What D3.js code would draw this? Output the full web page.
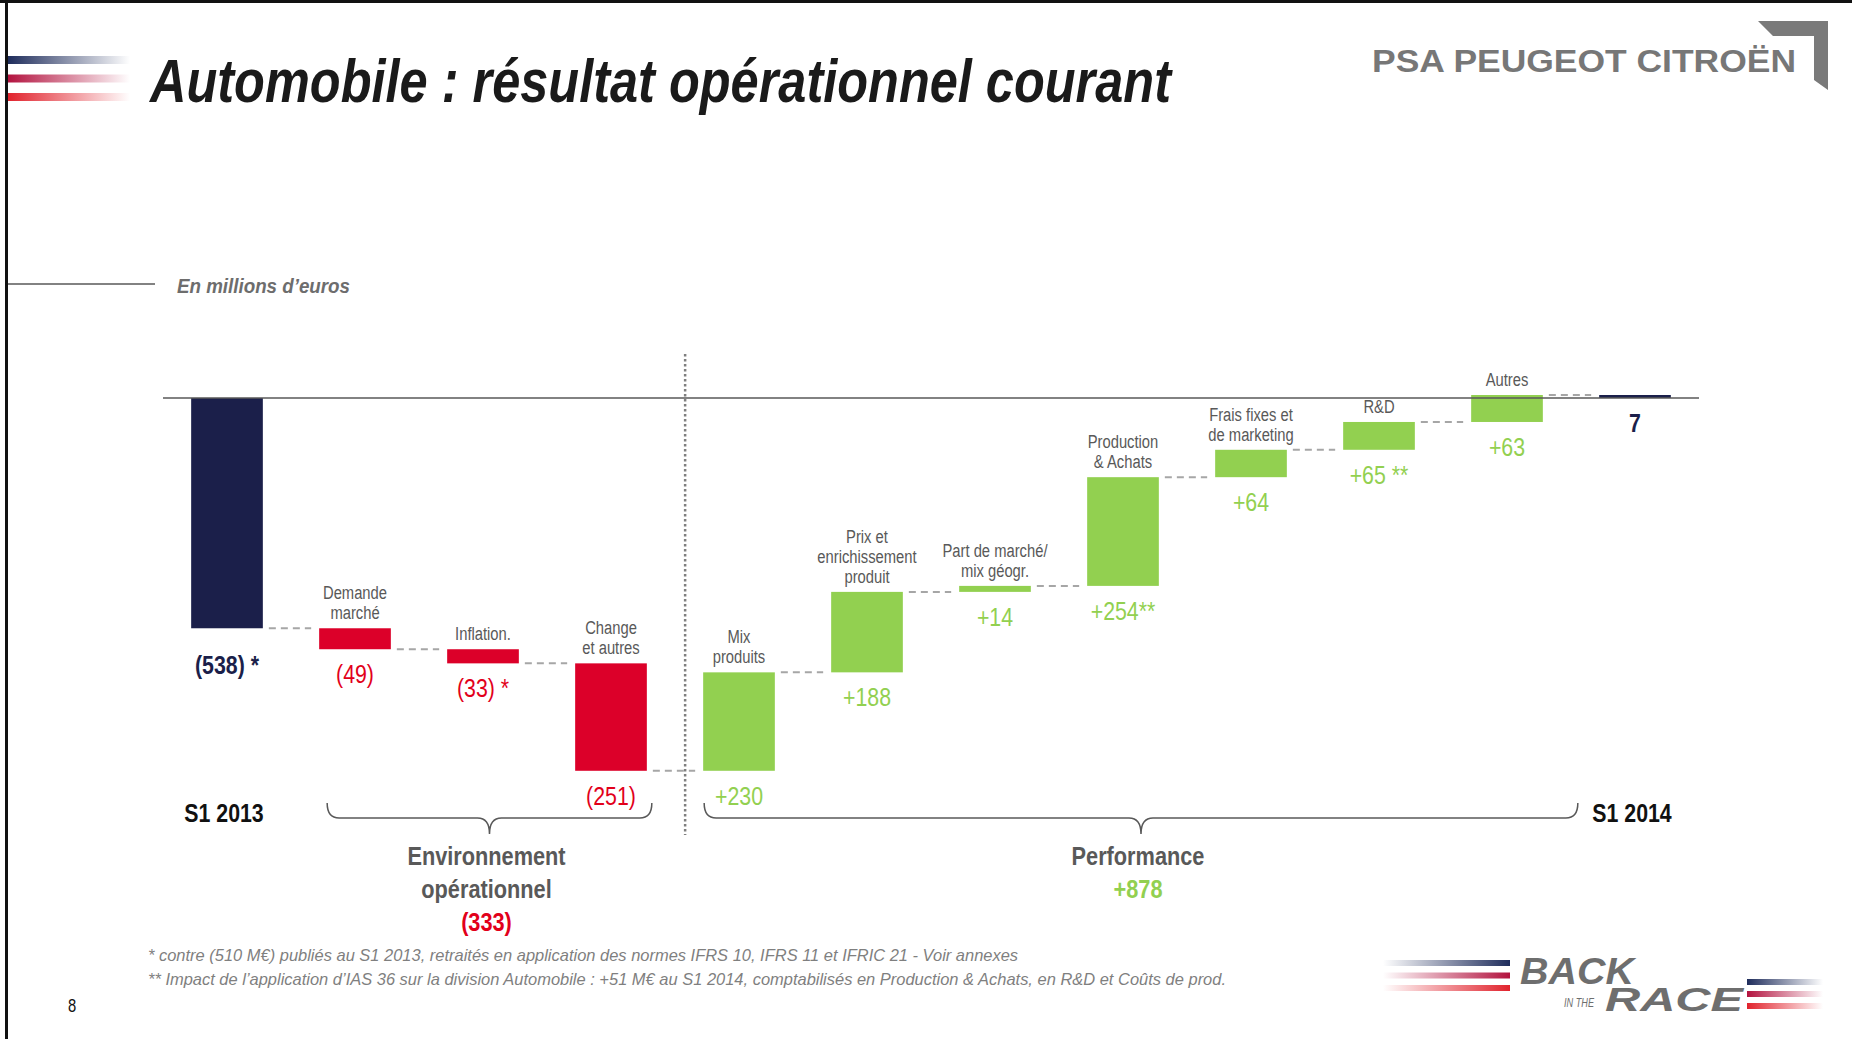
<!DOCTYPE html>
<html>
<head>
<meta charset="utf-8">
<script src="https://cdn.jsdelivr.net/npm/d3@7"></script>
<style>
body { margin: 0; background: #fff; }
svg { display: block; }
</style>
</head>
<body>
<script>
// ---- data (millions d'euros) ----
var categories = ["S1 2013", "Demande marché", "Inflation.", "Change et autres", "Mix produits",
	"Prix et enrichissement produit", "Part de marché/ mix géogr.", "Production & Achats",
	"Frais fixes et de marketing", "R&D", "Autres", "S1 2014"];
var values = [-538, -49, -33, -251, 230, 188, 14, 254, 64, 65, 63, 7];
var kinds = ["total", "delta", "delta", "delta", "delta", "delta", "delta", "delta", "delta", "delta", "delta", "total"];
var valueLabels = ["(538) *", "(49)", "(33) *", "(251)", "+230", "+188", "+14", "+254**", "+64", "+65 **", "+63", "7"];
var catLines = [[], ["Demande", "marché"], ["Inflation."], ["Change", "et autres"], ["Mix", "produits"],
	["Prix et", "enrichissement", "produit"], ["Part de marché/", "mix géogr."], ["Production", "& Achats"],
	["Frais fixes et", "de marketing"], ["R&D"], ["Autres"], []];
var groupNames = [["Environnement", "opérationnel"], ["Performance"]];
var groupTotals = ["(333)", "+878"];
var groupSpans = [["Demande marché", "Change et autres"], ["Mix produits", "Autres"]];
var footnotes = ["* contre (510 M€) publiés au S1 2013, retraités en application des normes IFRS 10, IFRS 11 et IFRIC 21 - Voir annexes",
	"** Impact de l’application d’IAS 36 sur la division Automobile : +51 M€ au S1 2014, comptabilisés en Production & Achats, en R&D et Coûts de prod."];
var title = "Automobile : résultat opérationnel courant";
var unitLabel = "En millions d’euros";

var W = 1852, H = 1039;
var FONT = "'Liberation Sans', Arial, sans-serif";
var NAVY = "#1b1f4a", RED = "#dc0029", REDTXT = "#e2001a", GREEN = "#92d050", GREY = "#595959";
var NARROW_RATIO = 0.82; // arial narrow ~ arial squeezed

var svg = d3.select("body").append("svg").attr("width", W).attr("height", H)
	.attr("font-family", FONT);
var defs = svg.append("defs");

function fade(id, color, reverse) {
	var g = defs.append("linearGradient").attr("id", id).attr("x1", 0).attr("x2", 1).attr("y1", 0).attr("y2", 0);
	g.append("stop").attr("offset", "0%").attr("stop-color", color).attr("stop-opacity", reverse ? 0 : 1);
	g.append("stop").attr("offset", "100%").attr("stop-color", color).attr("stop-opacity", reverse ? 1 : 0);
}
var stripeColors = ["#1f2d5c", "#b3133f", "#e1232d"];
stripeColors.forEach(function(c, i) {
	fade("fr" + i, c, false);
	fade("fl" + i, c, true);
});

// ---- page frame ----
svg.append("rect").attr("x", 0).attr("y", 0).attr("width", W).attr("height", 3).attr("fill", "#111");
svg.append("rect").attr("x", 5).attr("y", 0).attr("width", 3).attr("height", H).attr("fill", "#111");

// title stripes
svg.selectAll(".tstripe").data(stripeColors).enter().append("rect")
	.attr("class", "tstripe")
	.attr("x", 8).attr("width", 122).attr("height", 8)
	.attr("y", function(d, i) { return 56 + i * 18.5; })
	.attr("fill", function(d, i) { return "url(#fr" + i + ")"; });

svg.append("text").text(title)
	.attr("x", 150).attr("y", 102)
	.attr("font-size", 61).attr("font-weight", "bold").attr("font-style", "italic")
	.attr("fill", "#1a1a1a")
	.attr("textLength", 1021).attr("lengthAdjust", "spacingAndGlyphs");

// PSA logo
svg.append("text").text("PSA PEUGEOT CITROËN")
	.attr("x", 1372).attr("y", 72)
	.attr("font-size", 31).attr("font-weight", "bold")
	.attr("fill", "#777")
	.attr("textLength", 424).attr("lengthAdjust", "spacingAndGlyphs");
svg.append("path")
	.attr("d", "M1758,21 L1828,21 L1828,90 L1814,80 L1814,36 L1773,36 Z")
	.attr("fill", "#7a7a7a");

// unit label
svg.append("line").attr("x1", 8).attr("x2", 155).attr("y1", 284).attr("y2", 284)
	.attr("stroke", GREY).attr("stroke-width", 1.5);
svg.append("text").text(unitLabel)
	.attr("x", 177).attr("y", 293)
	.attr("font-size", 21).attr("font-weight", "bold").attr("font-style", "italic")
	.attr("fill", "#6d6d6d")
	.attr("textLength", 173).attr("lengthAdjust", "spacingAndGlyphs");

// ---- waterfall ----
var running = 0;
var steps = categories.map(function(c, i) {
	var v = values[i], start, end;
	if (kinds[i] == "total") {
		start = 0;
		end = v;
	} else {
		start = running;
		end = running + v;
	}
	running = end;
	return { cat: c, value: v, start: start, end: end, kind: kinds[i], label: valueLabels[i], lines: catLines[i] };
});

var x = d3.scaleBand().domain(categories).range([163, 1699]).paddingInner(0.44).paddingOuter(0.22);
var y = d3.scaleLinear().domain([-900, 100]).range([783.2, 355.2]);
var bw = x.bandwidth();

function barColor(d) {
	if (d.kind == "total") return NAVY;
	return d.value < 0 ? RED : GREEN;
}
function barTop(d) { return y(Math.max(d.start, d.end)); }
function barBottom(d) { return y(Math.min(d.start, d.end)); }
function cx(d) { return x(d.cat) + bw / 2; }

// separator between the two groups
var sepX = x("Mix produits") - (x.step() - bw) * 0.32;
svg.append("line")
	.attr("x1", sepX).attr("x2", sepX).attr("y1", 354).attr("y2", 835)
	.attr("stroke", "#7f7f7f").attr("stroke-width", 2.5).attr("stroke-dasharray", "2.5,2.5");

// connectors
var links = d3.pairs(steps);
svg.selectAll(".link").data(links).enter().append("line")
	.attr("class", "link")
	.attr("x1", function(d) { return x(d[0].cat) + bw + 6; })
	.attr("x2", function(d) { return x(d[1].cat) - 8; })
	.attr("y1", function(d) { return y(d[0].end); })
	.attr("y2", function(d) { return y(d[0].end); })
	.attr("stroke", "#a6a6a6").attr("stroke-width", 2).attr("stroke-dasharray", "7,5");

svg.selectAll(".bar").data(steps).enter().append("rect")
	.attr("class", "bar")
	.attr("x", function(d) { return x(d.cat); })
	.attr("width", bw)
	.attr("y", barTop)
	.attr("height", function(d) { return barBottom(d) - barTop(d); })
	.attr("fill", barColor);

// zero line
svg.append("line")
	.attr("x1", x.range()[0]).attr("x2", x.range()[1])
	.attr("y1", y(0)).attr("y2", y(0))
	.attr("stroke", GREY).attr("stroke-width", 1.5);

// category labels above bars, one text per line
var catRows = [];
steps.forEach(function(d) {
	d.lines.forEach(function(l, j) {
		catRows.push({ text: l, d: d, k: d.lines.length - 1 - j });
	});
});
svg.selectAll(".cat").data(catRows).enter().append("text")
	.attr("class", "cat narrow")
	.attr("text-anchor", "middle")
	.attr("x", function(t) { return cx(t.d); })
	.attr("y", function(t) { return barTop(t.d) - 9 - t.k * 20; })
	.attr("font-size", 18)
	.attr("fill", GREY)
	.text(function(t) { return t.text; });

// value labels under bars (the opening total sits a little lower)
svg.selectAll(".val").data(steps).enter().append("text")
	.attr("class", "val narrow")
	.attr("text-anchor", "middle")
	.attr("x", cx)
	.attr("y", function(d) {
		var extra = (d.kind == "total" && d.value < 0) ? 12 : 0;
		return barBottom(d) + 34 + extra;
	})
	.attr("font-size", 26)
	.attr("font-weight", function(d) { return d.kind == "total" ? "bold" : "normal"; })
	.attr("fill", function(d) {
		if (d.kind == "total") return NAVY;
		return d.value < 0 ? REDTXT : GREEN;
	})
	.text(function(d) { return d.label; });

// period labels
svg.selectAll(".period").data(steps.filter(function(d) { return d.kind == "total"; })).enter().append("text")
	.attr("class", "period narrow")
	.attr("text-anchor", "middle")
	.attr("x", function(d) { return cx(d) - 3; })
	.attr("y", 822)
	.attr("font-size", 26).attr("font-weight", "bold")
	.attr("fill", "#111")
	.text(function(d) { return d.cat; });

// braces + group labels
function bracePath(x0, x1, yTop) {
	var mid = (x0 + x1) / 2, yMid = yTop + 15, yTip = yTop + 31, r = 12;
	return "M" + x0 + "," + yTop +
		" Q" + x0 + "," + yMid + " " + (x0 + r) + "," + yMid +
		" L" + (mid - r) + "," + yMid +
		" Q" + mid + "," + yMid + " " + mid + "," + yTip +
		" Q" + mid + "," + yMid + " " + (mid + r) + "," + yMid +
		" L" + (x1 - r) + "," + yMid +
		" Q" + x1 + "," + yMid + " " + x1 + "," + yTop;
}
var groups = groupNames.map(function(n, i) {
	var first = groupSpans[i][0], last = groupSpans[i][1];
	var x0 = x(first) + (i == 0 ? 8 : 1);
	var x1 = x(last) + bw + (i == 0 ? 5 : 35);
	return { lines: n, total: groupTotals[i], x0: x0, x1: x1, mid: (x0 + x1) / 2, positive: groupTotals[i].charAt(0) == "+" };
});
svg.selectAll(".brace").data(groups).enter().append("path")
	.attr("class", "brace")
	.attr("d", function(g) { return bracePath(g.x0, g.x1, 803); })
	.attr("fill", "none").attr("stroke", GREY).attr("stroke-width", 1.5);

var gRows = [];
groups.forEach(function(g) {
	g.lines.forEach(function(l) { gRows.push({ text: l, g: g, total: false }); });
	gRows.push({ text: g.total, g: g, total: true });
});
svg.selectAll(".gname").data(gRows).enter().append("text")
	.attr("class", "gname narrow")
	.attr("text-anchor", "middle")
	.attr("x", function(t) { return t.g.mid - 3; })
	.attr("y", function(t) {
		var j = gRows.filter(function(r) { return r.g == t.g; }).indexOf(t);
		return 865 + j * 33;
	})
	.attr("font-size", 26.5).attr("font-weight", "bold")
	.attr("fill", function(t) {
		if (!t.total) return GREY;
		return t.g.positive ? GREEN : REDTXT;
	})
	.text(function(t) { return t.text; });

// footnotes
var fn = svg.selectAll(".fn").data(footnotes).enter().append("text")
	.attr("class", "fn")
	.attr("x", 148)
	.attr("y", function(d, i) { return 961 + i * 24; })
	.attr("font-size", 17).attr("font-style", "italic")
	.attr("fill", "#7f7f7f")
	.text(function(d) { return d; });

svg.append("text").text("8")
	.attr("class", "narrow")
	.attr("x", 72).attr("y", 1012).attr("text-anchor", "middle")
	.attr("font-size", 18).attr("fill", "#111");

// squeeze text to a narrow face
svg.selectAll("text.narrow").each(function() {
	var w = this.getComputedTextLength();
	d3.select(this).attr("textLength", w * NARROW_RATIO).attr("lengthAdjust", "spacingAndGlyphs");
});
// footnotes: fit the long line to the slide width
var longW = fn.nodes()[1].getComputedTextLength();
fn.each(function() {
	var w = this.getComputedTextLength();
	d3.select(this).attr("textLength", w * 1078 / longW).attr("lengthAdjust", "spacingAndGlyphs");
});

// BACK IN THE RACE logo
svg.selectAll(".lstripe").data(stripeColors).enter().append("rect")
	.attr("class", "lstripe")
	.attr("x", 1383).attr("width", 127).attr("height", 6)
	.attr("y", function(d, i) { return 960 + i * 12.5; })
	.attr("fill", function(d, i) { return "url(#fl" + i + ")"; });
svg.selectAll(".rstripe").data(stripeColors).enter().append("rect")
	.attr("class", "rstripe")
	.attr("x", 1747).attr("width", 76).attr("height", 6)
	.attr("y", function(d, i) { return 979 + i * 12; })
	.attr("fill", function(d, i) { return "url(#fr" + i + ")"; });
svg.append("text").text("BACK")
	.attr("x", 1520).attr("y", 984)
	.attr("font-size", 36).attr("font-weight", "bold").attr("font-style", "italic")
	.attr("fill", "#6e6e6e")
	.attr("textLength", 114).attr("lengthAdjust", "spacingAndGlyphs");
svg.append("text").text("IN THE")
	.attr("x", 1564).attr("y", 1007)
	.attr("font-size", 12).attr("font-style", "italic")
	.attr("fill", "#6e6e6e")
	.attr("textLength", 30).attr("lengthAdjust", "spacingAndGlyphs");
svg.append("text").text("RACE")
	.attr("x", 1605).attr("y", 1011)
	.attr("font-size", 34).attr("font-weight", "bold").attr("font-style", "italic")
	.attr("fill", "#6e6e6e")
	.attr("textLength", 138).attr("lengthAdjust", "spacingAndGlyphs");
</script>
</body>
</html>
